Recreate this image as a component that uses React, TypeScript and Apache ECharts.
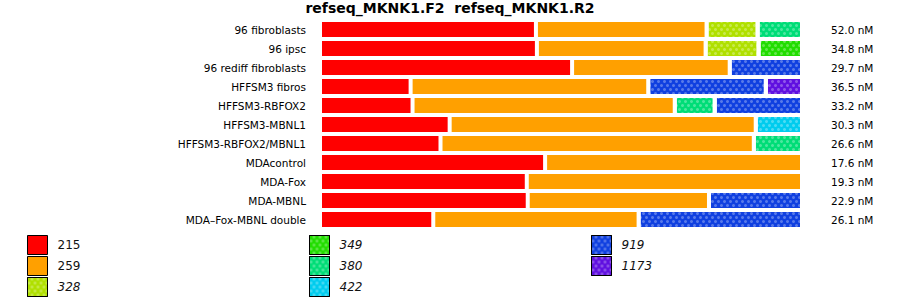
import React, { useEffect, useRef } from "react";
import * as echarts from "echarts";

const titleText = "refseq_MKNK1.F2  refseq_MKNK1.R2";
const rowLabels = [
  "96 fibroblasts",
  "96 ipsc",
  "96 rediff fibroblasts",
  "HFFSM3 fibros",
  "HFFSM3-RBFOX2",
  "HFFSM3-MBNL1",
  "HFFSM3-RBFOX2/MBNL1",
  "MDAcontrol",
  "MDA-Fox",
  "MDA-MBNL",
  "MDA\u2013Fox-MBNL double",
];
const concLabels = [
  "52.0 nM", "34.8 nM", "29.7 nM", "36.5 nM", "33.2 nM", "30.3 nM",
  "26.6 nM", "17.6 nM", "19.3 nM", "22.9 nM", "26.1 nM",
];
const seriesNames = ["215", "259", "328", "349", "380", "422", "919", "1173"];
const s215 = [44.8, 45.0, 52.3, 18.8, 19.2, 26.9, 25.0, 46.7, 42.9, 43.1, 23.5];
const s259 = [35.4, 35.0, 32.7, 49.3, 54.4, 63.5, 65.0, 53.3, 57.1, 37.6, 42.6];
const s328 = [10.6, 11.0, null, null, null, null, null, null, null, null, null];
const s349 = [null, 9.0, null, null, null, null, null, null, null, null, null];
const s380 = [9.2, null, null, null, 8.3, null, 10.0, null, null, null, null];
const s422 = [null, null, null, null, null, 9.6, null, null, null, null, null];
const s919 = [null, null, 15.0, 24.4, 18.1, null, null, null, null, 19.3, 33.9];
const s1173 = [null, null, null, 7.5, null, null, null, null, null, null, null];

const seriesValues = [s215, s259, s328, s349, s380, s422, s919, s1173];
const colors = ["#ff0000", "#ffa000", "#b0e000", "#22dd00", "#00dd77", "#00ccee", "#1040e0", "#6010e0"];
const patterned = [false, false, true, true, true, true, true, true];

const FONT = "DejaVu Sans";

export default function App() {
  const ref = useRef<HTMLDivElement>(null);
  useEffect(() => {
    if (!ref.current) return;
    const chart = echarts.init(ref.current, undefined, { renderer: "svg" });
    const decal = {
      symbol: "circle",
      symbolSize: 1,
      color: "rgba(255,255,255,0.3)",
      dashArrayX: [[3, 3], [0, 3, 3, 0]],
      dashArrayY: [3, 1],
      rotation: 0,
    };
    const series = seriesNames.map((name, i) => ({
      name,
      type: "bar",
      stack: "total",
      barCategoryGap: "0%",
      data: seriesValues[i],
      itemStyle: {
        color: colors[i],
        borderColor: "#ffffff",
        borderWidth: 2,
        decal: patterned[i] ? decal : "none",
      },
      emphasis: { disabled: true },
    }));
    const legendItem = (name: string) => {
      const i = seriesNames.indexOf(name);
      return patterned[i] ? { name, textStyle: { fontStyle: "italic" } } : { name };
    };
    const legendBase = {
      orient: "vertical",
      top: 235,
      padding: 0,
      itemGap: 1,
      itemWidth: 20,
      itemHeight: 19,
      icon: "rect",
      selectedMode: false,
      itemStyle: { borderColor: "#000", borderWidth: 1 },
      textStyle: { fontFamily: FONT, fontSize: 12, color: "#111", padding: [0, 0, 0, 5] },
    };
    chart.setOption({
      animation: false,
      backgroundColor: "#ffffff",
      title: {
        text: titleText,
        left: "center",
        top: 0,
        padding: [1, 0, 0, 0],
        textStyle: { fontFamily: FONT, fontSize: 14, fontWeight: "bold", color: "#000" },
      },
      legend: [
        { ...legendBase, left: 27, data: ["215", "259", "328"].map(legendItem) },
        { ...legendBase, left: 309, data: ["349", "380", "422"].map(legendItem) },
        { ...legendBase, left: 591, data: ["919", "1173"].map(legendItem) },
      ],
      grid: { left: 320, right: 98, top: 20, height: 209 },
      xAxis: { type: "value", min: 0, max: 100, show: false },
      yAxis: [
        {
          type: "category",
          data: rowLabels,
          inverse: true,
          axisLine: { show: false },
          axisTick: { show: false },
          splitLine: { show: false },
          axisLabel: { fontFamily: FONT, fontSize: 10.5, color: "#000", margin: 14 },
        },
        {
          type: "category",
          data: concLabels,
          inverse: true,
          position: "right",
          axisLine: { show: false },
          axisTick: { show: false },
          splitLine: { show: false },
          axisLabel: { fontFamily: FONT, fontSize: 10.5, color: "#000", margin: 29, align: "left" },
        },
      ],
      series,
    });
    return () => chart.dispose();
  }, []);
  return (
    <div
      ref={ref}
      style={{ position: "fixed", left: 0, top: 0, width: 900, height: 299, background: "#fff" }}
    />
  );
}
